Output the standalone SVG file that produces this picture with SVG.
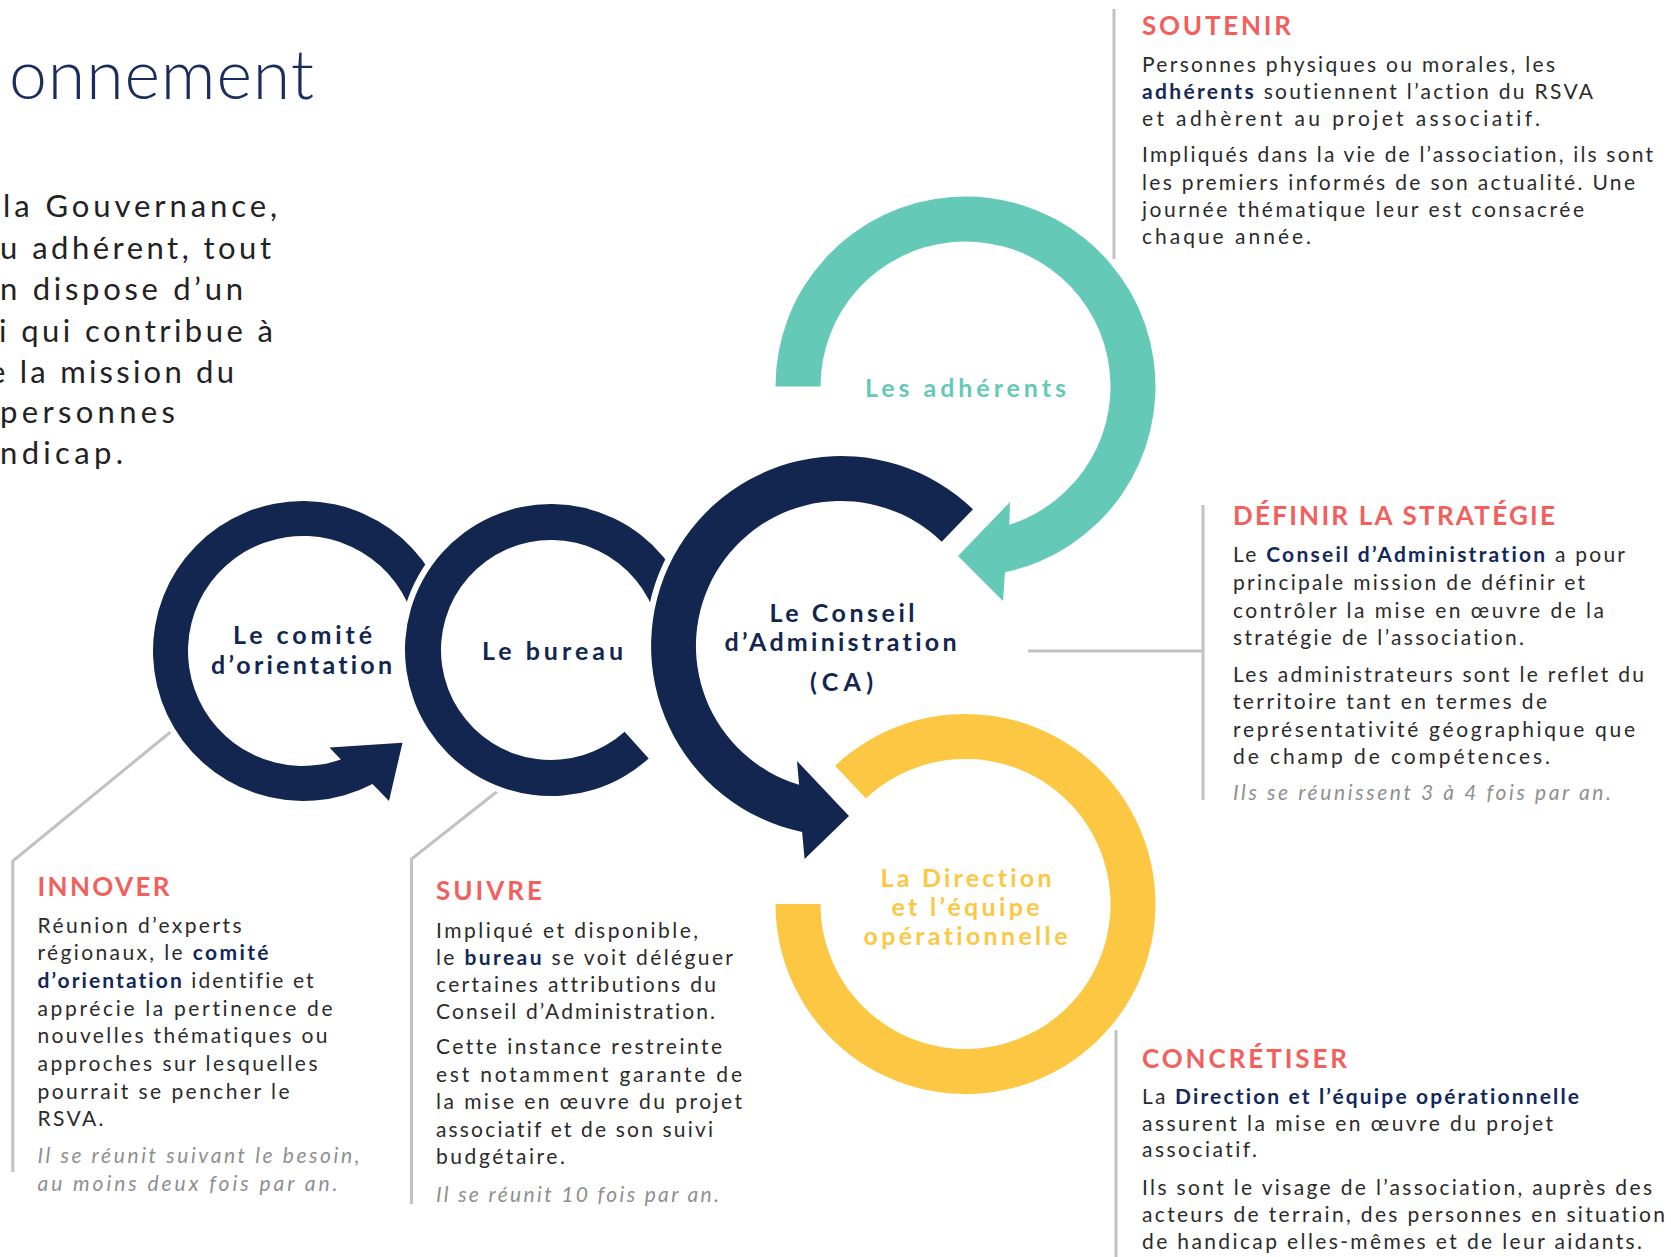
<svg xmlns="http://www.w3.org/2000/svg" width="1671" height="1257" viewBox="0 0 1671 1257">
<style>
text{font-family:Lato,'Open Sans','Liberation Sans',sans-serif;font-variant-ligatures:none;font-feature-settings:"liga" 0,"dlig" 0}
.body{font-size:21px;font-weight:400;fill:#2b2b2b}
.b{font-weight:700;fill:#13285a}
.it{font-size:21px;font-style:italic;font-weight:400;fill:#8f8f8f}
.head{font-size:26px;font-weight:700;fill:#f25f5c}
.lbl{font-size:25px;font-weight:700}
.navy{fill:#12264f}
.intro{font-size:31px;font-weight:400;fill:#222}
.title{font-size:68px;font-weight:300;fill:#1b2d5a}
.conn{stroke:#c2c2c2;stroke-width:3;fill:none}
.ring-o{stroke:#fff;stroke-width:12;paint-order:stroke;stroke-linejoin:miter}
</style>
<rect width="1671" height="1257" fill="#fff"/>

<g id="intro">
<text class="title" x="9" y="99" textLength="305">onnement</text>
<text class="intro" x="3" y="217" textLength="274">la Gouvernance,</text>
<text class="intro" x="0" y="259" textLength="271">u adhérent, tout</text>
<text class="intro" x="0" y="300" textLength="243">n dispose d’un</text>
<text class="intro" x="-1" y="342" textLength="274">i qui contribue à</text>
<text class="intro" x="-11" y="383" textLength="245">e la mission du</text>
<text class="intro" x="0" y="423" textLength="175">personnes</text>
<text class="intro" x="0" y="464" textLength="123">ndicap.</text>
</g>

<g id="connectors">
<line class="conn" x1="1114" y1="9" x2="1114" y2="259"/>
<polyline class="conn" points="1028,651 1203,651"/>
<line class="conn" x1="1203" y1="505" x2="1203" y2="800"/>
<polyline class="conn" points="170.5,732 12.8,861 12.8,1172"/>
<polyline class="conn" points="497.7,791 411.5,859 411.5,1204"/>
<line class="conn" x1="1116" y1="1030" x2="1116" y2="1257"/>
</g>

<g id="comite">
<path fill="#12264f" d="M443.95 599.7 A150 150 0 1 0 372.5 783.9 L389 801 L402.5 742.7 L329.5 747.5 L340.8 759.6 A115 115 0 1 1 411.1 611.7 Z"/>
<text class="lbl navy" x="233" y="644" textLength="139">Le comité</text>
<text class="lbl navy" x="211" y="674" textLength="181">d’orientation</text>
</g>

<g id="bureau">
<path class="ring-o" fill="#12264f" d="M692 612.2 A146 146 0 1 0 648.7 758.5 L624.6 731.7 A110 110 0 1 1 657.25 621.5 Z"/>
<text class="lbl navy" x="482" y="660" textLength="141">Le bureau</text>
</g>

<g id="ca">
<path class="ring-o" fill="#12264f" d="M973 509.3 A190 190 0 1 0 802.1 832 L804.6 859 L849 816 L797 761 L799.1 784.8 A145 145 0 1 1 941.7 541.7 Z"/>
<text class="lbl navy" x="769.5" y="622" textLength="145">Le Conseil</text>
<text class="lbl navy" x="724.5" y="651" textLength="232">d’Administration</text>
<text class="lbl navy" x="810" y="691" textLength="63">(CA)</text>
</g>

<g id="adherents">
<path fill="#65c9b8" d="M775.5 386.5 A190 190 0 1 1 1005 572.3 L1003 601 L958 556 L1010 502 L1009.3 524.7 A145 145 0 1 0 820.5 386.5 Z"/>
<text class="lbl" fill="#65c9b8" x="865" y="396.5" textLength="201">Les adhérents</text>
</g>

<g id="direction">
<path fill="#fcc844" d="M775.5 904 A190 190 0 1 0 835.1 765.8 L866 798.5 A145 145 0 1 1 820.5 904 Z"/>
<text class="lbl" fill="#fcc844" x="880.5" y="887" textLength="171">La Direction</text>
<text class="lbl" fill="#fcc844" x="891.5" y="916" textLength="148">et l’équipe</text>
<text class="lbl" fill="#fcc844" x="863.5" y="945" textLength="204">opérationnelle</text>
</g>

<g id="soutenir">
<text class="head" x="1142" y="35" textLength="149">SOUTENIR</text>
<text class="body" x="1142" y="72" textLength="413">Personnes physiques ou morales, les</text>
<text class="body" x="1142" y="99" textLength="451"><tspan class="b">adhérents</tspan> soutiennent l’action du RSVA</text>
<text class="body" x="1142" y="126" textLength="398">et adhèrent au projet associatif.</text>
<text class="body" x="1142" y="162" textLength="511">Impliqués dans la vie de l’association, ils sont</text>
<text class="body" x="1142" y="190" textLength="493">les premiers informés de son actualité. Une</text>
<text class="body" x="1142" y="217" textLength="442">journée thématique leur est consacrée</text>
<text class="body" x="1142" y="244" textLength="169">chaque année.</text>
</g>

<g id="definir">
<text class="head" x="1233" y="525" textLength="322">DÉFINIR LA STRATÉGIE</text>
<text class="body" x="1233" y="562" textLength="392">Le <tspan class="b">Conseil d’Administration</tspan> a pour</text>
<text class="body" x="1233" y="590" textLength="352">principale mission de définir et</text>
<text class="body" x="1233" y="617.5" textLength="371">contrôler la mise en œuvre de la</text>
<text class="body" x="1233" y="645" textLength="291">stratégie de l’association.</text>
<text class="body" x="1233" y="681.5" textLength="411">Les administrateurs sont le reflet du</text>
<text class="body" x="1233" y="709" textLength="314">territoire tant en termes de</text>
<text class="body" x="1233" y="736.5" textLength="402">représentativité géographique que</text>
<text class="body" x="1233" y="764" textLength="317">de champ de compétences.</text>
<text class="it" x="1233" y="800" textLength="378">Ils se réunissent 3 à 4 fois par an.</text>
</g>

<g id="innover">
<text class="head" x="37.5" y="896" textLength="132">INNOVER</text>
<text class="body" x="37.5" y="932.5" textLength="204">Réunion d’experts</text>
<text class="body" x="37.5" y="960" textLength="231">régionaux, le <tspan class="b">comité</tspan></text>
<text class="body" x="37.5" y="987.5" textLength="276"><tspan class="b">d’orientation</tspan> identifie et</text>
<text class="body" x="37.5" y="1015.5" textLength="295">apprécie la pertinence de</text>
<text class="body" x="37.5" y="1043" textLength="290">nouvelles thématiques ou</text>
<text class="body" x="37.5" y="1071" textLength="280">approches sur lesquelles</text>
<text class="body" x="37.5" y="1098.5" textLength="252">pourrait se pencher le</text>
<text class="body" x="37.5" y="1126" textLength="66">RSVA.</text>
<text class="it" x="37.5" y="1163" textLength="322">Il se réunit suivant le besoin,</text>
<text class="it" x="37.5" y="1190.5" textLength="300">au moins deux fois par an.</text>
</g>

<g id="suivre">
<text class="head" x="436" y="900" textLength="106">SUIVRE</text>
<text class="body" x="436" y="937.5" textLength="262">Impliqué et disponible,</text>
<text class="body" x="436" y="965" textLength="297">le <tspan class="b">bureau</tspan> se voit déléguer</text>
<text class="body" x="436" y="991.5" textLength="280">certaines attributions du</text>
<text class="body" x="436" y="1018.5" textLength="279">Conseil d’Administration.</text>
<text class="body" x="436" y="1054" textLength="286">Cette instance restreinte</text>
<text class="body" x="436" y="1081.5" textLength="306">est notamment garante de</text>
<text class="body" x="436" y="1109" textLength="306">la mise en œuvre du projet</text>
<text class="body" x="436" y="1136.5" textLength="277">associatif et de son suivi</text>
<text class="body" x="436" y="1163.5" textLength="129">budgétaire.</text>
<text class="it" x="436" y="1201.5" textLength="283">Il se réunit 10 fois par an.</text>
</g>

<g id="concretiser">
<text class="head" x="1142" y="1068" textLength="205">CONCRÉTISER</text>
<text class="body" x="1142" y="1104" textLength="437">La <tspan class="b">Direction et l’équipe opérationnelle</tspan></text>
<text class="body" x="1142" y="1130.5" textLength="411">assurent la mise en œuvre du projet</text>
<text class="body" x="1142" y="1157" textLength="115">associatif.</text>
<text class="body" x="1142" y="1195" textLength="510">Ils sont le visage de l’association, auprès des</text>
<text class="body" x="1142" y="1222" textLength="523">acteurs de terrain, des personnes en situation</text>
<text class="body" x="1142" y="1248.5" textLength="500">de handicap elles-mêmes et de leur aidants.</text>
</g>
</svg>
